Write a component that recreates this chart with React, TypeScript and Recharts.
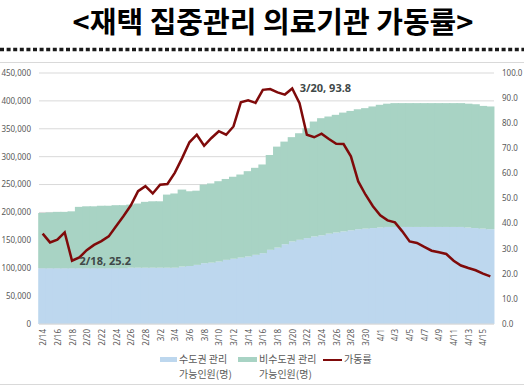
import React from 'react';
import { ComposedChart, Bar, Line, XAxis, YAxis, CartesianGrid } from 'recharts';

const dates = [
  '2/14', '2/15', '2/16', '2/17', '2/18', '2/19', '2/20', '2/21', '2/22', '2/23', '2/24', '2/25', '2/26', '2/27', '2/28',
  '3/1', '3/2', '3/3', '3/4', '3/5', '3/6', '3/7', '3/8', '3/9', '3/10', '3/11', '3/12', '3/13', '3/14', '3/15', '3/16',
  '3/17', '3/18', '3/19', '3/20', '3/21', '3/22', '3/23', '3/24', '3/25', '3/26', '3/27', '3/28', '3/29', '3/30', '3/31',
  '4/1', '4/2', '4/3', '4/4', '4/5', '4/6', '4/7', '4/8', '4/9', '4/10', '4/11', '4/12', '4/13', '4/14', '4/15', '4/16',
];

// 수도권 관리 가능인원(명)
const metroCapacity = [
  100000, 100000, 100000, 100000, 100000, 100000, 100000, 100000, 100000, 100000, 100000, 100000, 101000, 101000, 101000,
  101000, 101000, 101000, 101000, 103000, 104000, 106000, 109000, 110000, 112000, 115000, 117000, 119000, 121000, 124000, 127000,
  133000, 137000, 143000, 148000, 151000, 154000, 157000, 159000, 162000, 164000, 166000, 168000, 170000, 171000, 172000,
  173000, 174000, 174000, 174000, 174000, 174000, 174000, 174000, 174000, 174000, 174000, 174000, 173000, 172000, 171000, 170000,
];

// 비수도권 관리 가능인원(명)
const nonMetroCapacity = [
  99000, 100000, 101000, 101000, 102000, 110000, 111000, 111000, 112000, 112000, 113000, 113000, 113000, 115000, 118000,
  119000, 119000, 131000, 133000, 138000, 134000, 133000, 141000, 142000, 144000, 145000, 147000, 149000, 153000, 156000, 159000,
  170000, 181000, 184000, 187000, 191000, 197000, 206000, 210000, 210000, 211000, 213000, 214000, 215000, 216000, 218000,
  220000, 221000, 222000, 222000, 222000, 222000, 222000, 222000, 222000, 222000, 222000, 222000, 222000, 222000, 220000, 220000,
];

// 가동률 (%)
const utilization = [
  36.0, 32.5, 33.6, 36.5, 25.2, 26.5, 29.4, 31.5, 33.0, 34.9, 38.9, 42.9, 47.2, 52.9, 54.9,
  52.0, 55.5, 55.8, 60.2, 66.1, 72.4, 75.4, 71.0, 74.1, 76.8, 75.4, 78.7, 88.3, 89.1, 88.1, 93.3,
  93.6, 92.3, 91.4, 93.8, 88.0, 75.4, 74.4, 75.8, 73.7, 71.8, 71.7, 66.8, 56.8, 51.5, 46.9,
  43.3, 41.3, 40.5, 36.9, 32.9, 32.3, 30.7, 29.2, 28.6, 27.9, 25.2, 23.3, 22.3, 21.4, 20.1, 19.0,
];

const leftTicks = [0, 50000, 100000, 150000, 200000, 250000, 300000, 350000, 400000, 450000];
const rightTicks = [0, 10, 20, 30, 40, 50, 60, 70, 80, 90, 100];
const annotatedDates = ['2/18', '3/20'];

const data = dates.map((d, i) => ({
  date: d,
  metro: metroCapacity[i],
  nonMetro: nonMetroCapacity[i],
  rate: utilization[i],
}));

const FONT = '"Noto Sans", "Noto Sans CJK KR", sans-serif';
const KFONT = '"Noto Sans CJK KR", "Noto Sans", sans-serif';
const BLUE = '#BDD7EE';
const GREEN = '#A8D3C4';
const RED = '#7F0A0A';
const GRAY = '#595959';

const XTick = (props: any) => {
  const { x, payload } = props;
  const y = 329;
  return (
    <text
      x={x}
      y={y}
      transform={`rotate(-90, ${x}, ${y})`}
      textAnchor="end"
      dominantBaseline="central"
      fontSize={8}
      fill={GRAY}
      fontFamily={FONT}
    >
      {payload.value}
    </text>
  );
};

// Seamless bar: widen each bar slightly so adjacent bars touch with no hairline gaps
const SeamlessBar = (props: any) => {
  const { x, y, width, height, fill } = props;
  if (!height || height <= 0) return null;
  return <rect x={x - 0.8} y={y} width={width + 1.6} height={height} fill={fill} />;
};

const PointLabel = (props: any) => {
  const { x, y, index } = props;
  const d = dates[index];
  if (!annotatedDates.includes(d)) return null;
  return (
    <text
      x={x + 7.5}
      y={y}
      dy="0.35em"
      fontSize={11}
      fontWeight="bold"
      fill="#404848"
      fontFamily={FONT}
    >
      {`${d}, ${utilization[index]}`}
    </text>
  );
};

export default function App() {
  return (
    <div
      style={{
        position: 'absolute',
        left: 0,
        top: 0,
        width: 524,
        height: 386,
        background: '#fff',
        overflow: 'hidden',
      }}
    >
      <div
        style={{
          position: 'absolute',
          left: 0,
          top: 0,
          width: 546,
          textAlign: 'center',
          fontFamily: KFONT,
          fontWeight: 'bold',
          fontSize: 29,
          lineHeight: '40px',
          color: '#000',
          whiteSpace: 'nowrap',
        }}
      >
        {'<재택 집중관리 의료기관 가동률>'}
      </div>
      <svg width={524} height={386} style={{ position: 'absolute', left: 0, top: 0 }}>
        <line x1={0} x2={524} y1={49.5} y2={49.5} stroke="#1a1a1a" strokeWidth={3.5} strokeDasharray="4 2.6" />
        <line x1={0} x2={524} y1={62.5} y2={62.5} stroke="#d9d9d9" strokeWidth={1} />
        <line x1={0} x2={524} y1={384.5} y2={384.5} stroke="#d9d9d9" strokeWidth={1} />
      </svg>
      <div style={{ position: 'absolute', left: 0, top: 0 }}>
        <ComposedChart
          width={524}
          height={386}
          data={data}
          margin={{ top: 73, right: 0, bottom: 32, left: 0 }}
          barCategoryGap={0}
          barGap={0}
        >
          <CartesianGrid vertical={false} stroke="#d9d9d9" yAxisId="left" />
          <XAxis
            dataKey="date"
            interval={1}
            height={30}
            tickLine={false}
            axisLine={{ stroke: '#d9d9d9' }}
            tick={<XTick />}
          />
          <YAxis
            yAxisId="left"
            orientation="left"
            width={39}
            domain={[0, 450000]}
            ticks={leftTicks}
            interval={0}
            axisLine={false}
            tickLine={false}
            tick={{ fontSize: 8, fill: GRAY, fontFamily: FONT }}
            tickFormatter={(v: number) => v.toLocaleString('en-US')}
          />
          <YAxis
            yAxisId="right"
            orientation="right"
            width={30}
            domain={[0, 100]}
            ticks={rightTicks}
            interval={0}
            axisLine={false}
            tickLine={false}
            tick={{ fontSize: 8, fill: GRAY, fontFamily: FONT, textAnchor: 'start' }}
            tickFormatter={(v: number) => v.toFixed(1)}
          />
          <Bar dataKey="metro" stackId="cap" yAxisId="left" fill={BLUE} shape={<SeamlessBar />} isAnimationActive={false} />
          <Bar dataKey="nonMetro" stackId="cap" yAxisId="left" fill={GREEN} shape={<SeamlessBar />} isAnimationActive={false} />
          <Line
            dataKey="rate"
            yAxisId="right"
            type="linear"
            stroke={RED}
            strokeWidth={2.5}
            dot={false}
            isAnimationActive={false}
            label={<PointLabel />}
          />
        </ComposedChart>
      </div>
      <div style={{ position: 'absolute', left: 160, top: 357, width: 17, height: 5, background: BLUE }} />
      <div style={{ position: 'absolute', left: 238, top: 357, width: 19, height: 5, background: GREEN }} />
      <div style={{ position: 'absolute', left: 323, top: 358.5, width: 19, height: 2, background: RED }} />
      <div style={{ position: 'absolute', left: 179, top: 351, fontSize: 10, lineHeight: '15px', color: GRAY, fontFamily: KFONT, whiteSpace: 'nowrap' }}>
        수도권 관리<br />가능인원(명)
      </div>
      <div style={{ position: 'absolute', left: 259, top: 351, fontSize: 10, lineHeight: '15px', color: GRAY, fontFamily: KFONT, whiteSpace: 'nowrap' }}>
        비수도권 관리<br />가능인원(명)
      </div>
      <div style={{ position: 'absolute', left: 344, top: 351, fontSize: 10, lineHeight: '15px', color: GRAY, fontFamily: KFONT, whiteSpace: 'nowrap' }}>
        가동률
      </div>
    </div>
  );
}
